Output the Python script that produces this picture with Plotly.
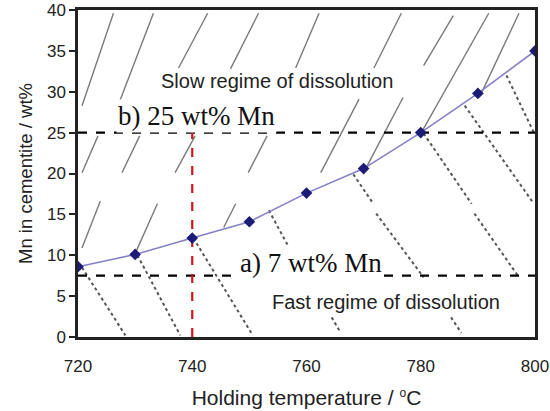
import plotly.graph_objects as go

# Main curve: Mn in cementite vs holding temperature
temps = [720, 730, 740, 750, 760, 770, 780, 790, 800]
mn_wt = [8.6, 10.1, 12.1, 14.1, 17.6, 20.6, 25.0, 29.8, 35.0]

# Background solid tie lines (x0, y0, x1, y1)
solid_x0 = [720.7, 727.0, 737.6, 746.7, 758.1, 771.8, 780.5, 780.1, 790.6,
            720.7, 727.7, 737.0, 749.8, 762.5, 770.3, 720.7, 730.0, 745.5]
solid_y0 = [28.3, 28.3, 32.9, 32.8, 32.9, 32.9, 33.2, 25.0, 29.8,
            20.1, 20.1, 20.1, 20.1, 20.1, 20.5, 10.9, 10.2, 13.4]
solid_x1 = [726.2, 733.2, 742.7, 751.6, 762.2, 776.6, 785.7, 791.9, 797.2,
            723.5, 730.8, 740.5, 753.1, 769.2, 776.9, 723.9, 733.9, 747.6]
solid_y1 = [39.6, 39.6, 39.6, 39.6, 39.6, 39.6, 39.3, 39.6, 39.6,
            24.6, 24.6, 24.6, 24.6, 29.1, 29.3, 16.6, 16.3, 16.3]

# Background dotted lines (x0, y0, x1, y1)
dot_x0 = [720.7, 730.4, 740.2, 753.4, 768.2, 772.2, 780.5, 789.4, 787.7, 795.0, 764.4, 785.3]
dot_y0 = [8.5, 10.0, 12.1, 15.5, 19.9, 15.1, 24.9, 15.1, 28.3, 32.0, 2.4, 2.4]
dot_x1 = [728.3, 737.9, 750.6, 756.9, 771.7, 780.5, 788.9, 797.2, 799.8, 799.8, 766.0, 787.1]
dot_y1 = [0.2, 0.2, 0.2, 11.0, 16.3, 7.3, 16.3, 7.3, 16.3, 25.0, 0.5, 0.5]

x_ticks = [720, 740, 760, 780, 800]
y_ticks = [0, 5, 10, 15, 20, 25, 30, 35, 40]

slow_level = 25
fast_level = 7.5
marker_temp = 740


def segs(x0, y0, x1, y1):
    xs, ys = [], []
    for a, b, c, d in zip(x0, y0, x1, y1):
        xs += [a, c, None]
        ys += [b, d, None]
    return xs, ys


fig = go.Figure()

sx, sy = segs(solid_x0, solid_y0, solid_x1, solid_y1)
fig.add_trace(go.Scatter(x=sx, y=sy, mode="lines",
                         line=dict(color="#7a7a7a", width=1.4),
                         hoverinfo="skip", showlegend=False))
dx, dy = segs(dot_x0, dot_y0, dot_x1, dot_y1)
fig.add_trace(go.Scatter(x=dx, y=dy, mode="lines",
                         line=dict(color="#555555", width=2, dash="dot"),
                         hoverinfo="skip", showlegend=False))

# Horizontal dashed levels
fig.add_trace(go.Scatter(x=[720, 800], y=[slow_level, slow_level], mode="lines",
                         line=dict(color="black", width=2.2, dash="dash"),
                         hoverinfo="skip", showlegend=False))
fig.add_trace(go.Scatter(x=[720, 800], y=[fast_level, fast_level], mode="lines",
                         line=dict(color="black", width=2.2, dash="dash"),
                         hoverinfo="skip", showlegend=False))
# Red vertical dashed
fig.add_trace(go.Scatter(x=[marker_temp, marker_temp], y=[0, slow_level], mode="lines",
                         line=dict(color="#d0141a", width=2.2, dash="dash"),
                         hoverinfo="skip", showlegend=False))

# Curve
fig.add_trace(go.Scatter(x=temps, y=mn_wt, mode="lines+markers",
                         line=dict(color="#8581c8", width=1.6),
                         marker=dict(symbol="diamond", size=9, color="#1c1c78"),
                         showlegend=False))

fig.add_annotation(x=754.8, y=31.3, text="Slow regime of dissolution", showarrow=False,
                   font=dict(family="Liberation Sans, Arial", size=20, color="#222"),
                   xanchor="center", yanchor="middle")
fig.add_annotation(x=740.8, y=27.0, text="b) 25 wt% Mn", showarrow=False,
                   font=dict(family="Liberation Serif, Times New Roman", size=27, color="#111"),
                   bgcolor="white", xanchor="center", yanchor="middle")
fig.add_annotation(x=760.7, y=9.1, text="a) 7 wt% Mn", showarrow=False,
                   font=dict(family="Liberation Serif, Times New Roman", size=27, color="#111"),
                   bgcolor="white", xanchor="center", yanchor="middle")
fig.add_annotation(x=773.9, y=4.3, text="Fast regime of dissolution", showarrow=False,
                   font=dict(family="Liberation Sans, Arial", size=20, color="#222"),
                   xanchor="center", yanchor="middle")

fig.update_layout(
    width=550, height=411,
    margin=dict(l=78, r=15, t=10, b=74),
    paper_bgcolor="white", plot_bgcolor="white",
    font=dict(family="Liberation Sans, Arial", size=17, color="#222"),
)
fig.update_xaxes(range=[720, 800], tickvals=x_ticks, ticks="", showgrid=False,
                 zeroline=False, showline=True, linecolor="#222", linewidth=2.5,
                 mirror=True, ticklabelstandoff=12, automargin=False,
                 tickfont=dict(size=17),
                 title=dict(text="Holding temperature / <sup><span style=\"font-size:12px\">o</span></sup>C",
                            standoff=16, font=dict(size=21)))
fig.update_yaxes(range=[0, 40], tickvals=y_ticks, ticks="outside", ticklen=6,
                 tickcolor="#222", tickwidth=1.5, showgrid=False,
                 zeroline=False, showline=True, linecolor="#222", linewidth=2.5,
                 mirror=True, automargin=False, tickfont=dict(size=17),
                 title=dict(text="Mn in cementite / wt%", standoff=10,
                            font=dict(size=18.5)))

fig.write_html("out.html")
